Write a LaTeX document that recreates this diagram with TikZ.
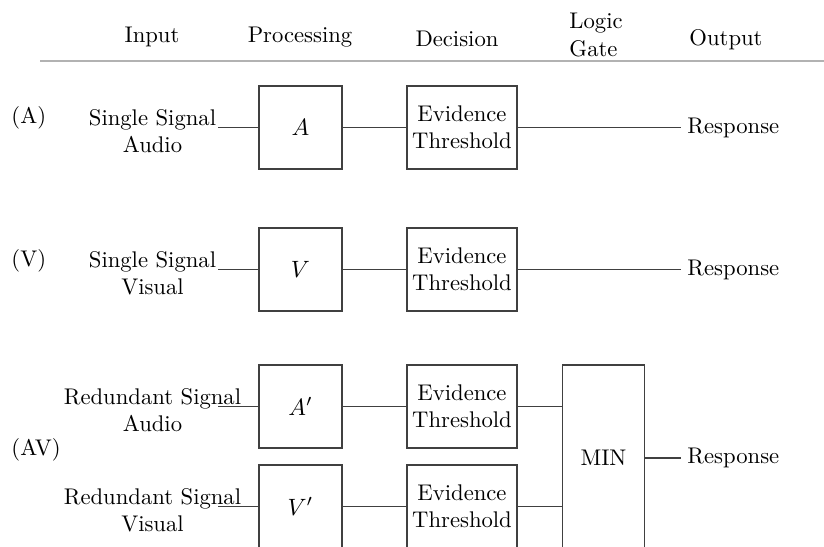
\documentclass[tikz,border=0pt]{standalone}
\begin{document}
\begin{tikzpicture}[x=0.4237pt,y=-0.4237pt,
  every node/.style={font=\fontsize{9.6}{11.5}\selectfont},
  ln/.style={draw=black!75, line width=0.6pt},
  box/.style={ln, minimum width=35.17pt, minimum height=35.17pt, inner sep=0pt},
  thr/.style={box, minimum width=46.6pt, align=center},
  gate/.style={ln, minimum width=34.8pt, minimum height=78.8pt, inner sep=0pt},
  lab/.style={inner sep=0pt, align=center},
  hdr/.style={draw=black!30, line width=0.5pt}]
\useasboundingbox (0,0) rectangle (824,547);
\clip (0,0) rectangle (824,547);
% header
\node[lab] (hin) at (152,37) {Input};
\node[lab] (hproc) at (300,37) {Processing};
\node[lab] (hdec) at (457,38.5) {Decision};
\node[lab, align=left, anchor=west] (hgate) at (569,35) {Logic\\Gate};
\node[lab] (hout) at (726,40) {Output};
\coordinate (hl) at (40,61);
\coordinate (hr) at (824,61);
\draw[hdr] (hl) -- (hr);
% row A
\node[lab, anchor=base west] (lA) at (11,124) {(A)};
\node[lab] (inA) at (152.5,131) {Single Signal\\Audio};
\coordinate (sA) at (218,127.5);
\node[box] (pA) at (300.5,127.5) {$A$};
\node[thr] (tA) at (462,127.5) {Evidence\\Threshold};
\node[lab, anchor=west] (rA) at (687,127.5) {Response};
\draw[ln] (sA) -- (pA.west);
\draw[ln] (pA) -- (tA);
\draw[ln] (tA) -- ([xshift=-2.6pt]rA.west);
% row V
\node[lab, anchor=base west] (lV) at (11,266) {(V)};
\node[lab] (inV) at (152.5,273) {Single Signal\\Visual};
\coordinate (sV) at (218,269.5);
\node[box] (pV) at (300.5,269.5) {$V$};
\node[thr] (tV) at (462,269.5) {Evidence\\Threshold};
\node[lab, anchor=west] (rV) at (687,269.5) {Response};
\draw[ln] (sV) -- (pV.west);
\draw[ln] (pV) -- (tV);
\draw[ln] (tV) -- ([xshift=-2.6pt]rV.west);
% row AV
\node[lab, anchor=west] (lAV) at (11,450) {(AV)};
\node[lab] (inAp) at (152.5,410) {Redundant Signal\\Audio};
\node[lab] (inVp) at (152.5,510) {Redundant Signal\\Visual};
\coordinate (sAp) at (218,406.5);
\coordinate (sVp) at (218,506.5);
\node[box] (pAp) at (300.5,406.5) {$A'$};
\node[box] (pVp) at (300.5,506.5) {$V'$};
\node[thr] (tAp) at (462,406.5) {Evidence\\Threshold};
\node[thr] (tVp) at (462,506.5) {Evidence\\Threshold};
\node[gate] (mn) at (603.5,458) {MIN};
\node[lab, anchor=west] (rAV) at (687,458) {Response};
\draw[ln] (sAp) -- (pAp.west);
\draw[ln] (sVp) -- (pVp.west);
\draw[ln] (pAp) -- (tAp);
\draw[ln] (pVp) -- (tVp);
\draw[ln] (tAp.east) -- (tAp.east -| mn.west);
\draw[ln] (tVp.east) -- (tVp.east -| mn.west);
\draw[ln] (mn.east) -- ([xshift=-2.6pt]rAV.west);
\end{tikzpicture}
\end{document}
